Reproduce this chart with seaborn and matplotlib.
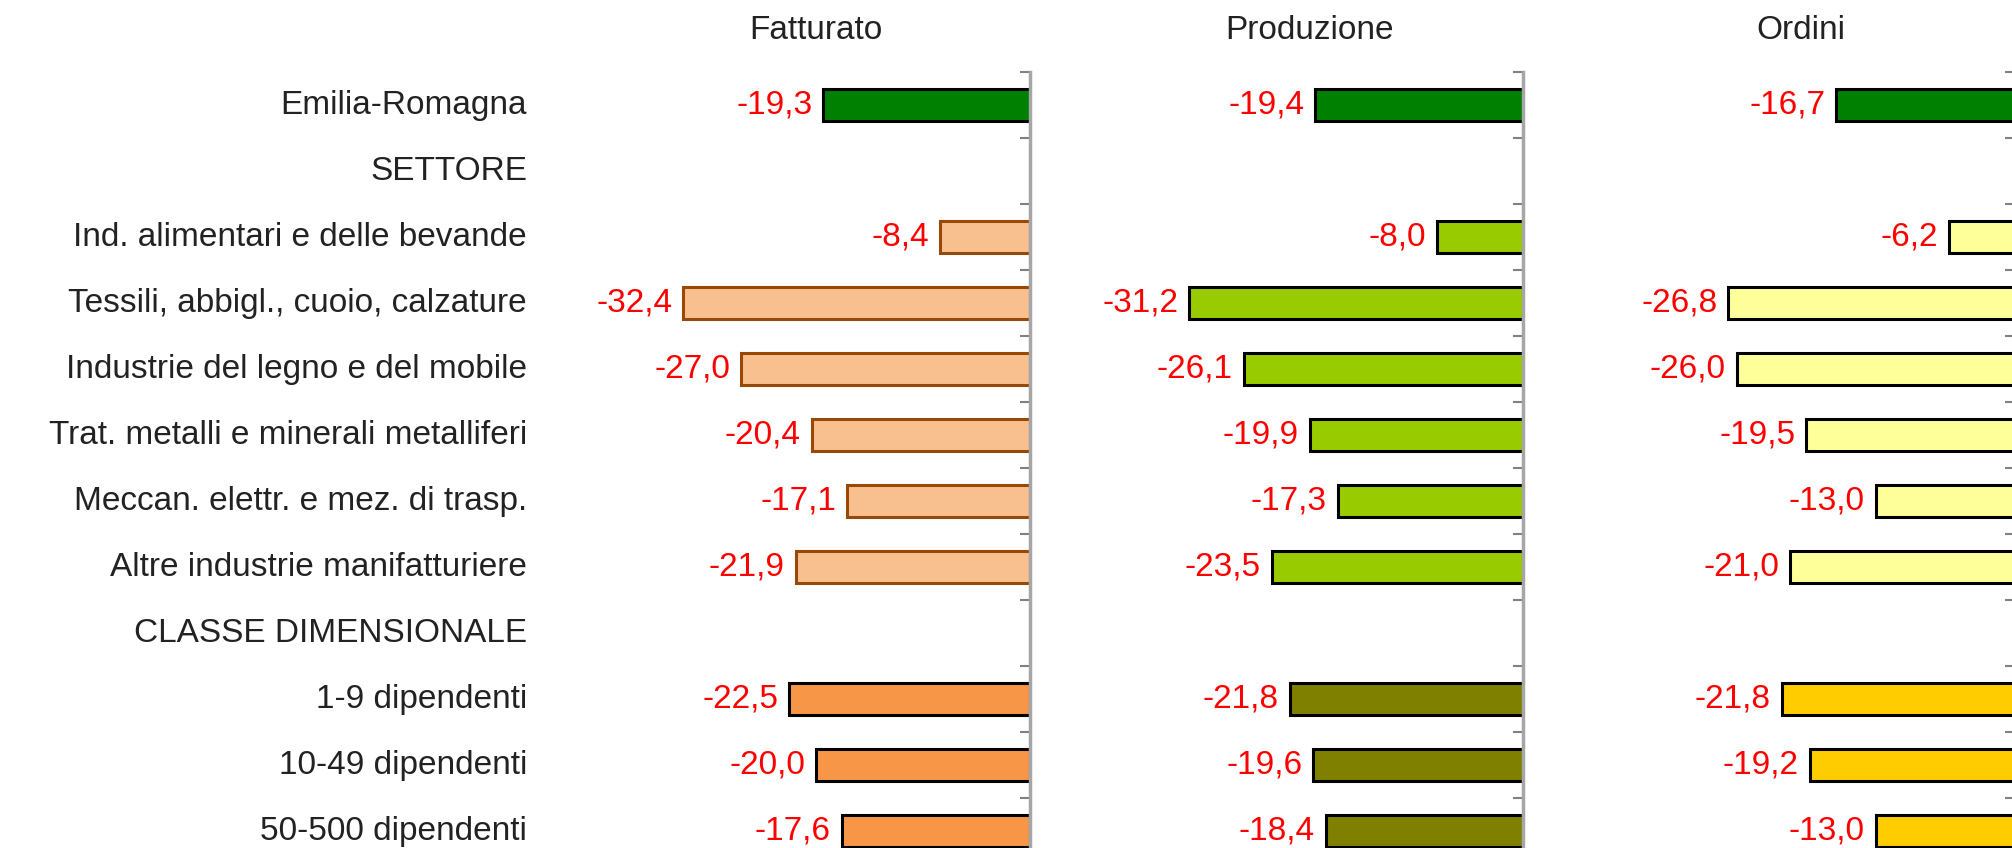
import numpy as np
import pandas as pd
import matplotlib
matplotlib.use("Agg")
import matplotlib.pyplot as plt
import seaborn as sns

categories = [
    "Emilia-Romagna", "SETTORE",
    "Ind. alimentari e delle bevande",
    "Tessili, abbigl., cuoio, calzature",
    "Industrie del legno e del mobile",
    "Trat. metalli e minerali metalliferi",
    "Meccan. elettr. e mez. di trasp.",
    "Altre industrie manifatturiere",
    "CLASSE DIMENSIONALE",
    "1-9 dipendenti", "10-49 dipendenti", "50-500 dipendenti",
]
panel_titles = ["Fatturato", "Produzione", "Ordini"]

fatturato = [-19.3, np.nan, -8.4, -32.4, -27.0, -20.4, -17.1, -21.9, np.nan, -22.5, -20.0, -17.6]
produzione = [-19.4, np.nan, -8.0, -31.2, -26.1, -19.9, -17.3, -23.5, np.nan, -21.8, -19.6, -18.4]
ordini = [-16.7, np.nan, -6.2, -26.8, -26.0, -19.5, -13.0, -21.0, np.nan, -21.8, -19.2, -13.0]

# colours per group: (region, settore, classe)
fill_colors = [
    ("#008000", "#F9C08F", "#F79646"),
    ("#008000", "#99CC00", "#808000"),
    ("#008000", "#FFFF99", "#FFCC00"),
]
edge_colors = [
    ("#000000", "#984807", "#000000"),
    ("#000000", "#000000", "#000000"),
    ("#000000", "#000000", "#000000"),
]
group_of = [0, None, 1, 1, 1, 1, 1, 1, None, 2, 2, 2]

sns.set_style("white")
plt.rcParams["font.family"] = ["Liberation Sans", "DejaVu Sans"]

W, H = 2012, 848
fig = plt.figure(figsize=(W / 100, H / 100), dpi=100)

axis_x = [1030, 1523, 2015]
panel_w = 428
top_px = 72
row_px = 66
n = len(categories)
height_px = row_px * n

series = [fatturato, produzione, ordini]
for p, (vals, title) in enumerate(zip(series, panel_titles)):
    left = (axis_x[p] - panel_w) / W
    bottom = 1 - (top_px + height_px) / H
    ax = fig.add_axes([left, bottom, panel_w / W, height_px / H])
    df = pd.DataFrame({"cat": categories, "val": vals}).dropna()
    pal = {}
    for c in df["cat"]:
        i = categories.index(c)
        pal[c] = fill_colors[p][group_of[i]]
    sns.barplot(data=df, x="val", y="cat", order=categories, hue="cat",
                palette=pal, dodge=False, legend=False, width=0.48,
                linewidth=2.2, edgecolor="black", saturation=1, ax=ax)
    for patch in ax.patches:
        yc = patch.get_y() + patch.get_height() / 2
        i = int(round(yc))
        if 0 <= i < n and group_of[i] is not None:
            patch.set_edgecolor(edge_colors[p][group_of[i]])
    for i, v in enumerate(vals):
        if not np.isnan(v):
            ax.annotate(f"{v:.1f}".replace(".", ","), xy=(v, i),
                        xytext=(-8, 0), textcoords="offset points",
                        ha="right", va="center", color="#FF0000",
                        fontsize=24, annotation_clip=False)
    ax.set_xlim(-40, 0)
    ax.set_ylim(n - 0.5, -0.5)
    ax.set_xlabel("")
    ax.set_ylabel("")
    ax.set_xticks([])
    for s in ["left", "top", "bottom"]:
        ax.spines[s].set_visible(False)
    ax.spines["right"].set_visible(True)
    ax.spines["right"].set_color("#A6A6A6")
    ax.spines["right"].set_linewidth(2.5)
    ax.yaxis.tick_right()
    ax.set_yticks(np.arange(-0.5, n, 1))
    ax.tick_params(axis="y", direction="in", length=7, width=1.5,
                   color="#808080", labelright=False, labelleft=False)
    ax.set_title(title, fontsize=24, color="#222222", pad=24)
    ax.patch.set_alpha(0)
    if p == 0:
        for i, c in enumerate(categories):
            ax.text(-0.175, i, c, transform=ax.get_yaxis_transform(),
                    ha="right", va="center", fontsize=24, color="#222222",
                    clip_on=False)

fig.savefig("out.png", dpi=100)
